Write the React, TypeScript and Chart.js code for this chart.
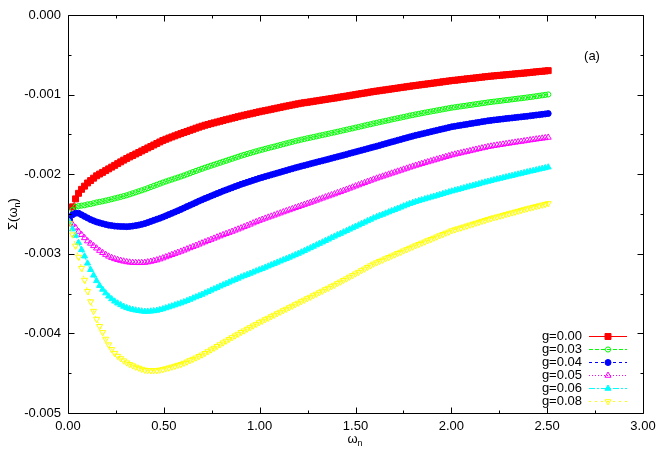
import { useEffect, useRef } from "react";
import { Chart, registerables } from "chart.js";
import { drawPoint } from "chart.js/helpers";

Chart.register(...registerables);

const FONT = '"Liberation Sans", Arial, Helvetica, sans-serif';

// Matsubara frequencies omega_n (x axis)
const OMEGA = [
  0.0079, 0.0236, 0.0393, 0.055, 0.0707, 0.0864, 0.1021, 0.1178, 0.1335, 0.1492,
  0.1649, 0.1806, 0.1964, 0.2121, 0.2278, 0.2435, 0.2592, 0.2749, 0.2906, 0.3063,
  0.322, 0.3377, 0.3534, 0.3691, 0.3848, 0.4006, 0.4163, 0.432, 0.4477, 0.4634,
  0.4791, 0.4948, 0.5105, 0.5262, 0.5419, 0.5576, 0.5733, 0.589, 0.6048, 0.6205,
  0.6362, 0.6519, 0.6676, 0.6833, 0.699, 0.7147, 0.7304, 0.7461, 0.7618, 0.7775,
  0.7933, 0.809, 0.8247, 0.8404, 0.8561, 0.8718, 0.8875, 0.9032, 0.9189, 0.9346,
  0.9503, 0.966, 0.9817, 0.9975, 1.0132, 1.0289, 1.0446, 1.0603, 1.076, 1.0917,
  1.1074, 1.1231, 1.1388, 1.1545, 1.1702, 1.1859, 1.2017, 1.2174, 1.2331, 1.2488,
  1.2645, 1.2802, 1.2959, 1.3116, 1.3273, 1.343, 1.3587, 1.3744, 1.3901, 1.4058,
  1.4216, 1.4373, 1.453, 1.4687, 1.4844, 1.5001, 1.5158, 1.5315, 1.5472, 1.5629,
  1.5786, 1.5943, 1.6101, 1.6258, 1.6415, 1.6572, 1.6729, 1.6886, 1.7043, 1.72,
  1.7357, 1.7514, 1.7671, 1.7828, 1.7985, 1.8142, 1.83, 1.8457, 1.8614, 1.8771,
  1.8928, 1.9085, 1.9242, 1.9399, 1.9556, 1.9713, 1.987, 2.0027, 2.0185, 2.0342,
  2.0499, 2.0656, 2.0813, 2.097, 2.1127, 2.1284, 2.1441, 2.1598, 2.1755, 2.1912,
  2.2069, 2.2226, 2.2384, 2.2541, 2.2698, 2.2855, 2.3012, 2.3169, 2.3326, 2.3483,
  2.364, 2.3797, 2.3954, 2.4111, 2.4268, 2.4426, 2.4583, 2.474, 2.4897, 2.5054,
];

// Sigma(omega_n), in units of 1e-3
const SIGMA_G000 = [
  -2.6, -2.41, -2.31, -2.24, -2.19, -2.15, -2.11, -2.08, -2.05, -2.02,
  -1.998, -1.977, -1.955, -1.933, -1.911, -1.889, -1.867, -1.845, -1.823, -1.802,
  -1.783, -1.765, -1.746, -1.727, -1.708, -1.689, -1.67, -1.652, -1.633, -1.614,
  -1.595, -1.576, -1.561, -1.546, -1.532, -1.518, -1.504, -1.49, -1.476, -1.463,
  -1.449, -1.436, -1.422, -1.409, -1.397, -1.385, -1.375, -1.365, -1.355, -1.345,
  -1.335, -1.325, -1.315, -1.306, -1.296, -1.287, -1.277, -1.268, -1.259, -1.251,
  -1.242, -1.234, -1.225, -1.216, -1.208, -1.201, -1.193, -1.185, -1.177, -1.169,
  -1.161, -1.153, -1.145, -1.138, -1.13, -1.122, -1.115, -1.108, -1.102, -1.097,
  -1.091, -1.085, -1.079, -1.073, -1.067, -1.061, -1.055, -1.05, -1.044, -1.038,
  -1.031, -1.025, -1.019, -1.013, -1.006, -1.0, -0.993, -0.987, -0.981, -0.975,
  -0.968, -0.962, -0.956, -0.951, -0.945, -0.94, -0.934, -0.929, -0.923, -0.918,
  -0.912, -0.907, -0.901, -0.896, -0.89, -0.885, -0.88, -0.875, -0.87, -0.865,
  -0.86, -0.855, -0.85, -0.845, -0.839, -0.834, -0.829, -0.824, -0.82, -0.816,
  -0.811, -0.807, -0.802, -0.798, -0.794, -0.79, -0.785, -0.781, -0.776, -0.772,
  -0.768, -0.765, -0.761, -0.758, -0.754, -0.751, -0.747, -0.744, -0.74, -0.737,
  -0.733, -0.73, -0.726, -0.722, -0.718, -0.714, -0.71, -0.707, -0.703, -0.699,
];
const SIGMA_G003 = [
  -2.58, -2.45, -2.41, -2.4, -2.395, -2.39, -2.38, -2.375, -2.365, -2.355,
  -2.348, -2.34, -2.332, -2.323, -2.314, -2.304, -2.295, -2.285, -2.275, -2.265,
  -2.253, -2.24, -2.228, -2.215, -2.203, -2.19, -2.176, -2.161, -2.147, -2.133,
  -2.119, -2.105, -2.092, -2.079, -2.067, -2.054, -2.042, -2.029, -2.016, -2.002,
  -1.988, -1.973, -1.959, -1.945, -1.932, -1.918, -1.906, -1.893, -1.881, -1.868,
  -1.856, -1.843, -1.831, -1.818, -1.806, -1.793, -1.781, -1.768, -1.757, -1.746,
  -1.735, -1.724, -1.713, -1.702, -1.692, -1.682, -1.672, -1.662, -1.653, -1.643,
  -1.633, -1.623, -1.613, -1.603, -1.594, -1.584, -1.575, -1.566, -1.558, -1.549,
  -1.541, -1.533, -1.525, -1.516, -1.508, -1.5, -1.492, -1.483, -1.475, -1.467,
  -1.458, -1.449, -1.441, -1.432, -1.424, -1.415, -1.407, -1.398, -1.389, -1.38,
  -1.372, -1.363, -1.355, -1.346, -1.338, -1.33, -1.322, -1.313, -1.305, -1.297,
  -1.289, -1.281, -1.273, -1.264, -1.257, -1.249, -1.242, -1.234, -1.227, -1.22,
  -1.213, -1.206, -1.199, -1.192, -1.185, -1.178, -1.171, -1.164, -1.159, -1.153,
  -1.148, -1.142, -1.137, -1.131, -1.126, -1.12, -1.115, -1.109, -1.104, -1.098,
  -1.093, -1.088, -1.084, -1.079, -1.074, -1.069, -1.065, -1.06, -1.055, -1.05,
  -1.046, -1.041, -1.036, -1.031, -1.026, -1.02, -1.015, -1.009, -1.004, -0.998,
];
const SIGMA_G004 = [
  -2.57, -2.51, -2.49, -2.49, -2.51, -2.53, -2.55, -2.57, -2.585, -2.6,
  -2.611, -2.621, -2.631, -2.64, -2.646, -2.652, -2.655, -2.657, -2.658, -2.659,
  -2.656, -2.652, -2.646, -2.639, -2.63, -2.62, -2.607, -2.593, -2.58, -2.566,
  -2.553, -2.539, -2.523, -2.507, -2.491, -2.475, -2.459, -2.442, -2.425, -2.407,
  -2.39, -2.373, -2.356, -2.338, -2.322, -2.305, -2.29, -2.274, -2.259, -2.243,
  -2.228, -2.212, -2.198, -2.184, -2.17, -2.155, -2.141, -2.127, -2.115, -2.102,
  -2.09, -2.077, -2.065, -2.052, -2.041, -2.03, -2.019, -2.008, -1.997, -1.986,
  -1.975, -1.964, -1.953, -1.942, -1.931, -1.92, -1.91, -1.899, -1.89, -1.88,
  -1.87, -1.86, -1.85, -1.84, -1.831, -1.821, -1.811, -1.801, -1.791, -1.781,
  -1.771, -1.761, -1.751, -1.74, -1.73, -1.72, -1.71, -1.7, -1.69, -1.679,
  -1.669, -1.659, -1.649, -1.638, -1.627, -1.616, -1.606, -1.595, -1.585, -1.574,
  -1.564, -1.553, -1.543, -1.532, -1.522, -1.512, -1.503, -1.494, -1.485, -1.476,
  -1.467, -1.458, -1.449, -1.44, -1.431, -1.422, -1.413, -1.404, -1.398, -1.391,
  -1.385, -1.379, -1.373, -1.366, -1.36, -1.354, -1.348, -1.341, -1.335, -1.329,
  -1.324, -1.319, -1.315, -1.31, -1.306, -1.301, -1.297, -1.293, -1.289, -1.284,
  -1.28, -1.276, -1.272, -1.267, -1.262, -1.257, -1.253, -1.248, -1.243, -1.238,
];
const SIGMA_G005 = [
  -2.6, -2.63, -2.67, -2.72, -2.76, -2.8, -2.84, -2.87, -2.9, -2.93,
  -2.96, -2.987, -3.01, -3.032, -3.049, -3.064, -3.075, -3.085, -3.094, -3.102,
  -3.107, -3.111, -3.112, -3.113, -3.112, -3.11, -3.104, -3.097, -3.088, -3.079,
  -3.067, -3.054, -3.04, -3.026, -3.012, -2.998, -2.984, -2.97, -2.956, -2.941,
  -2.926, -2.911, -2.896, -2.881, -2.866, -2.851, -2.836, -2.821, -2.806, -2.791,
  -2.777, -2.762, -2.748, -2.734, -2.72, -2.705, -2.691, -2.677, -2.661, -2.645,
  -2.63, -2.614, -2.599, -2.583, -2.569, -2.555, -2.542, -2.529, -2.516, -2.502,
  -2.489, -2.475, -2.462, -2.449, -2.436, -2.422, -2.409, -2.395, -2.382, -2.369,
  -2.356, -2.342, -2.329, -2.315, -2.302, -2.288, -2.275, -2.262, -2.249, -2.235,
  -2.221, -2.206, -2.192, -2.178, -2.164, -2.15, -2.136, -2.122, -2.108, -2.093,
  -2.079, -2.065, -2.052, -2.039, -2.027, -2.014, -2.002, -1.989, -1.977, -1.964,
  -1.952, -1.939, -1.927, -1.914, -1.902, -1.89, -1.879, -1.868, -1.857, -1.846,
  -1.835, -1.824, -1.813, -1.802, -1.791, -1.78, -1.77, -1.759, -1.75, -1.741,
  -1.733, -1.724, -1.716, -1.707, -1.698, -1.689, -1.681, -1.672, -1.664, -1.655,
  -1.649, -1.642, -1.636, -1.63, -1.624, -1.618, -1.612, -1.606, -1.6, -1.594,
  -1.589, -1.583, -1.577, -1.571, -1.566, -1.56, -1.555, -1.549, -1.544, -1.538,
];
const SIGMA_G006 = [
  -2.6, -2.69, -2.77, -2.86, -2.95, -3.03, -3.12, -3.2, -3.27, -3.34,
  -3.4, -3.448, -3.494, -3.534, -3.568, -3.597, -3.621, -3.642, -3.662, -3.679,
  -3.691, -3.701, -3.709, -3.716, -3.721, -3.725, -3.724, -3.722, -3.718, -3.712,
  -3.703, -3.693, -3.681, -3.669, -3.657, -3.644, -3.632, -3.619, -3.605, -3.59,
  -3.574, -3.558, -3.543, -3.527, -3.511, -3.494, -3.477, -3.459, -3.442, -3.425,
  -3.408, -3.391, -3.375, -3.358, -3.342, -3.325, -3.309, -3.292, -3.277, -3.262,
  -3.247, -3.232, -3.217, -3.202, -3.187, -3.171, -3.156, -3.14, -3.124, -3.108,
  -3.093, -3.077, -3.062, -3.046, -3.03, -3.014, -2.997, -2.98, -2.962, -2.944,
  -2.926, -2.908, -2.89, -2.872, -2.854, -2.836, -2.818, -2.799, -2.781, -2.763,
  -2.746, -2.728, -2.711, -2.693, -2.675, -2.657, -2.64, -2.622, -2.605, -2.587,
  -2.569, -2.551, -2.536, -2.52, -2.506, -2.491, -2.476, -2.461, -2.446, -2.431,
  -2.416, -2.401, -2.386, -2.371, -2.358, -2.345, -2.334, -2.323, -2.312, -2.301,
  -2.29, -2.279, -2.268, -2.257, -2.246, -2.235, -2.224, -2.213, -2.203, -2.193,
  -2.183, -2.172, -2.162, -2.152, -2.142, -2.132, -2.122, -2.111, -2.101, -2.091,
  -2.082, -2.072, -2.063, -2.054, -2.045, -2.036, -2.027, -2.018, -2.009, -2.0,
  -1.991, -1.982, -1.973, -1.964, -1.956, -1.947, -1.938, -1.929, -1.921, -1.912,
];
const SIGMA_G008 = [
  -2.62, -2.76, -2.9, -3.04, -3.18, -3.33, -3.47, -3.6, -3.72, -3.82,
  -3.91, -3.987, -4.07, -4.141, -4.2, -4.248, -4.285, -4.315, -4.343, -4.368,
  -4.388, -4.405, -4.421, -4.435, -4.448, -4.46, -4.464, -4.466, -4.466, -4.465,
  -4.459, -4.452, -4.442, -4.432, -4.421, -4.41, -4.399, -4.388, -4.373, -4.357,
  -4.34, -4.323, -4.306, -4.288, -4.269, -4.249, -4.227, -4.205, -4.184, -4.162,
  -4.14, -4.117, -4.095, -4.073, -4.051, -4.029, -4.008, -3.986, -3.966, -3.945,
  -3.925, -3.904, -3.884, -3.863, -3.844, -3.825, -3.807, -3.788, -3.769, -3.75,
  -3.731, -3.712, -3.694, -3.675, -3.656, -3.637, -3.618, -3.599, -3.58, -3.561,
  -3.543, -3.524, -3.505, -3.486, -3.467, -3.448, -3.43, -3.411, -3.392, -3.372,
  -3.352, -3.332, -3.312, -3.291, -3.271, -3.25, -3.23, -3.209, -3.189, -3.168,
  -3.148, -3.127, -3.11, -3.093, -3.077, -3.06, -3.044, -3.027, -3.011, -2.994,
  -2.978, -2.961, -2.945, -2.928, -2.912, -2.896, -2.88, -2.864, -2.849, -2.833,
  -2.818, -2.802, -2.786, -2.77, -2.755, -2.739, -2.724, -2.708, -2.696, -2.684,
  -2.673, -2.661, -2.649, -2.637, -2.626, -2.614, -2.602, -2.59, -2.579, -2.567,
  -2.556, -2.545, -2.535, -2.525, -2.515, -2.504, -2.494, -2.484, -2.474, -2.464,
  -2.454, -2.443, -2.433, -2.423, -2.414, -2.404, -2.395, -2.386, -2.377, -2.367,
];

const SERIES_LABELS = ["g=0.00", "g=0.03", "g=0.04", "g=0.05", "g=0.06", "g=0.08"];
const SERIES_VALUES = [SIGMA_G000, SIGMA_G003, SIGMA_G004, SIGMA_G005, SIGMA_G006, SIGMA_G008];

const X_TICKS = [0, 0.5, 1, 1.5, 2, 2.5, 3];
const X_MINOR = [0.25, 0.75, 1.25, 1.75, 2.25, 2.75];
const Y_TICKS = [-5, -4, -3, -2, -1, 0];
const Y_MINOR = [-4.5, -3.5, -2.5, -1.5, -0.5];

const STYLES = [
  { color: "#ff0000", pointStyle: "rect", radius: 4.2, rotation: 0, filled: true, dash: [] as number[] },
  { color: "#00ff00", pointStyle: "circle", radius: 2.6, rotation: 0, filled: false, dash: [4, 2] },
  { color: "#0000ff", pointStyle: "circle", radius: 3, rotation: 0, filled: true, dash: [3, 3] },
  { color: "#ff00ff", pointStyle: "triangle", radius: 3.5, rotation: 0, filled: false, dash: [1, 2] },
  { color: "#00ffff", pointStyle: "triangle", radius: 3.5, rotation: 0, filled: true, dash: [6, 2, 2, 2] },
  { color: "#ffff00", pointStyle: "triangle", radius: 3.5, rotation: 180, filled: false, dash: [2, 4] },
];

const framePlugin = {
  id: "gnuframe",
  afterDraw(chart: any) {
    const { ctx, chartArea: a, scales } = chart;
    const xs = scales.x;
    const ys = scales.y;
    ctx.save();
    ctx.strokeStyle = "#000";
    ctx.lineWidth = 1;
    ctx.setLineDash([]);
    ctx.beginPath();
    const L = Math.round(a.left) + 0.5;
    const R = Math.round(a.right) + 0.5;
    const T = Math.round(a.top) + 0.5;
    const B = Math.round(a.bottom) + 0.5;
    const xt = (v: number, len: number) => {
      const px = Math.round(xs.getPixelForValue(v)) + 0.5;
      ctx.moveTo(px, B);
      ctx.lineTo(px, B - len);
      ctx.moveTo(px, T);
      ctx.lineTo(px, T + len);
    };
    const yt = (v: number, len: number) => {
      const py = Math.round(ys.getPixelForValue(v)) + 0.5;
      ctx.moveTo(L, py);
      ctx.lineTo(L + len, py);
      ctx.moveTo(R, py);
      ctx.lineTo(R - len, py);
    };
    X_TICKS.forEach((v) => xt(v, 6));
    X_MINOR.forEach((v) => xt(v, 3));
    Y_TICKS.forEach((v) => yt(v, 6));
    Y_MINOR.forEach((v) => yt(v, 3));
    ctx.rect(L, T, R - L, B - T);
    ctx.stroke();

    // legend
    const top = 336;
    const step = 12.9;
    ctx.font = `13px ${FONT}`;
    ctx.textAlign = "right";
    ctx.textBaseline = "middle";
    SERIES_LABELS.forEach((label, i) => {
      const y = Math.round(top + i * step) + 0.5;
      const st = STYLES[i];
      ctx.fillStyle = "#000";
      ctx.fillText(label, 582, y);
      ctx.strokeStyle = st.color;
      ctx.lineWidth = 1;
      ctx.setLineDash(st.dash);
      ctx.beginPath();
      ctx.moveTo(589, y);
      ctx.lineTo(627, y);
      ctx.stroke();
      ctx.setLineDash([]);
      ctx.fillStyle = st.filled ? st.color : "rgba(0,0,0,0)";
      ctx.strokeStyle = st.color;
      drawPoint(
        ctx,
        { pointStyle: st.pointStyle, radius: st.radius, rotation: st.rotation, borderWidth: 1 } as any,
        608,
        y
      );
    });

    // (a) label
    ctx.fillStyle = "#000";
    ctx.textAlign = "center";
    ctx.textBaseline = "middle";
    ctx.font = `13px ${FONT}`;
    ctx.fillText("(a)", 592, 56);

    // x axis title: omega_n
    ctx.textAlign = "left";
    ctx.textBaseline = "alphabetic";
    ctx.font = `13px ${FONT}`;
    const wOm = ctx.measureText("ω").width;
    ctx.font = `9px ${FONT}`;
    const wN = ctx.measureText("n").width;
    const xStart = 355 - (wOm + wN) / 2;
    ctx.font = `13px ${FONT}`;
    ctx.fillText("ω", xStart, 443);
    ctx.font = `9px ${FONT}`;
    ctx.fillText("n", xStart + wOm, 446);

    // y axis title: Sigma(omega_n)
    ctx.save();
    ctx.translate(17, 214);
    ctx.rotate(-Math.PI / 2);
    ctx.font = `13px ${FONT}`;
    const w1 = ctx.measureText("Σ(ω").width;
    const w3 = ctx.measureText(")").width;
    ctx.font = `9px ${FONT}`;
    const w2 = ctx.measureText("n").width;
    const s = -(w1 + w2 + w3) / 2;
    ctx.font = `13px ${FONT}`;
    ctx.fillText("Σ(ω", s, 0);
    ctx.font = `9px ${FONT}`;
    ctx.fillText("n", s + w1, 3);
    ctx.font = `13px ${FONT}`;
    ctx.fillText(")", s + w1 + w2, 0);
    ctx.restore();

    ctx.restore();
  },
};

export default function App() {
  const ref = useRef<HTMLCanvasElement | null>(null);
  useEffect(() => {
    if (!ref.current) return;
    const datasets = SERIES_LABELS.map((label, i) => {
      const vals = SERIES_VALUES[i];
      const n = Math.min(vals.length, OMEGA.length);
      const data: { x: number; y: number }[] = [];
      for (let k = 0; k < n; k++) data.push({ x: OMEGA[k], y: vals[k] });
      const st = STYLES[i];
      return {
        label,
        data,
        order: 10 - i,
        borderColor: st.color,
        backgroundColor: st.color,
        borderWidth: 1,
        borderDash: st.dash,
        pointStyle: st.pointStyle,
        pointRadius: st.radius,
        pointRotation: st.rotation,
        pointBorderColor: st.color,
        pointBackgroundColor: st.filled ? st.color : "rgba(0,0,0,0)",
        pointBorderWidth: 1,
        pointHoverRadius: st.radius,
        fill: false,
        tension: 0,
      };
    });
    const chart = new Chart(ref.current, {
      type: "line",
      data: { datasets },
      options: {
        animation: false,
        responsive: false,
        maintainAspectRatio: false,
        events: [],
        layout: { padding: { left: 0, right: 21, top: 15, bottom: 0 } },
        plugins: { legend: { display: false }, tooltip: { enabled: false } },
        scales: {
          x: {
            type: "linear",
            min: 0,
            max: 3,
            afterFit: (s: any) => {
              s.height = 52;
            },
            afterBuildTicks: (s: any) => {
              s.ticks = X_TICKS.map((v) => ({ value: v }));
            },
            grid: { display: false, drawTicks: false },
            border: { display: false },
            ticks: {
              callback: (v: any) => Number(v).toFixed(2),
              font: { family: FONT, size: 13 },
              color: "#000",
              padding: 6,
              maxRotation: 0,
              autoSkip: false,
            },
          },
          y: {
            type: "linear",
            min: -5,
            max: 0,
            afterFit: (s: any) => {
              s.width = 68;
            },
            afterBuildTicks: (s: any) => {
              s.ticks = Y_TICKS.map((v) => ({ value: v }));
            },
            grid: { display: false, drawTicks: false },
            border: { display: false },
            ticks: {
              callback: (v: any) => (Number(v) / 1000).toFixed(3),
              font: { family: FONT, size: 13 },
              color: "#000",
              padding: 7,
              autoSkip: false,
            },
          },
        },
      },
      plugins: [framePlugin],
    } as any);
    return () => chart.destroy();
  }, []);
  return (
    <div style={{ position: "fixed", left: 0, top: 0, width: 664, height: 465, background: "#fff" }}>
      <canvas ref={ref} width={664} height={465} style={{ display: "block", width: 664, height: 465 }} />
    </div>
  );
}
